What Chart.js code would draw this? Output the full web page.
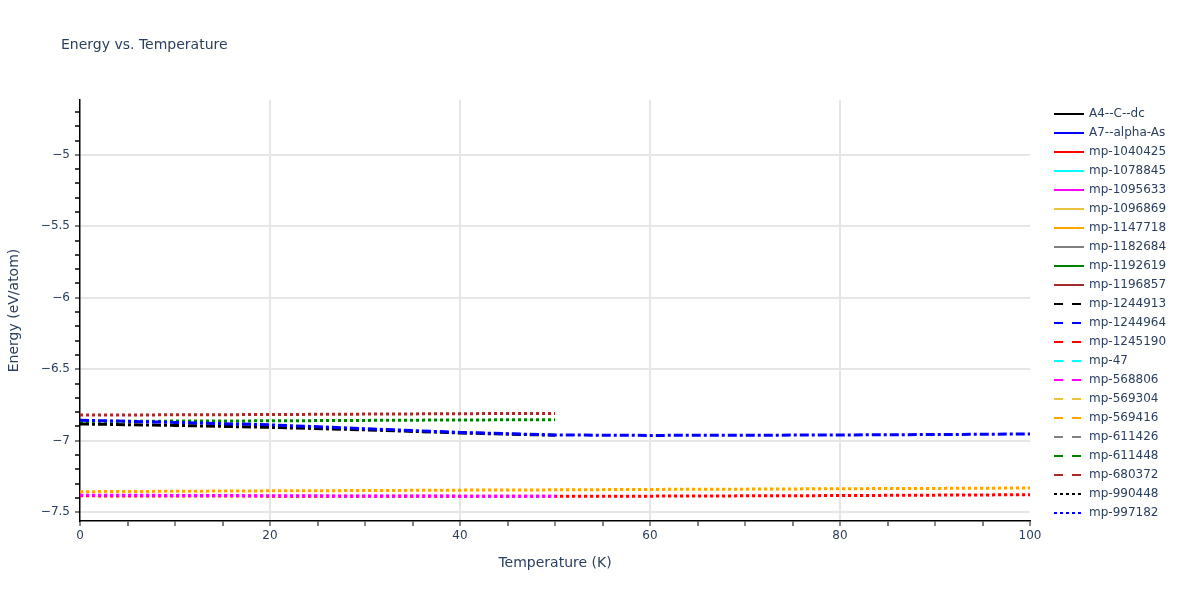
<!DOCTYPE html>
<html><head><meta charset="utf-8">
<script src="https://cdn.jsdelivr.net/npm/chart.js@4.4.1/dist/chart.umd.min.js"></script>
<style>html,body{margin:0;padding:0;background:#fff}#wrap{width:1200px;height:600px;position:relative}</style>
</head><body><div id="wrap"><canvas id="c" width="1200" height="600"></canvas></div>
<script>
const titleText = 'Energy vs. Temperature';
const xTitle = 'Temperature (K)';
const yTitle = 'Energy (eV/atom)';

const tempsFull = [0, 10, 20, 30, 40, 50, 60, 70, 80, 90, 100];
const tempsHalf = [0, 10, 20, 30, 40, 50];

const seriesNames = ['A4--C--dc','A7--alpha-As','mp-1040425','mp-1078845','mp-1095633','mp-1096869','mp-1147718','mp-1182684','mp-1192619','mp-1196857','mp-1244913','mp-1244964','mp-1245190','mp-47','mp-568806','mp-569304','mp-569416','mp-611426','mp-611448','mp-680372','mp-990448','mp-997182'];
const seriesColors = ['#000000','#0000ff','#ff0000','#00ffff','#ff00ff','#ebc23f','#ffa500','#808080','#008000','#a52a2a','#000000','#0000ff','#ff0000','#00ffff','#ff00ff','#ebc23f','#ffa500','#808080','#008000','#a52a2a','#000000','#0000ff'];
const legendStyles = ['solid','solid','solid','solid','solid','solid','solid','solid','solid','solid','dash','dash','dash','dash','dash','dash','dash','dash','dash','dash','dot','dot'];

const energyA4 = [-6.883, -6.893, -6.907, -6.924, -6.946, -6.962];
const energyA7 = [-6.857, -6.872, -6.889, -6.916, -6.942, -6.960, -6.963, -6.962, -6.960, -6.957, -6.953];
const energy1040425 = [-7.386, -7.387, -7.388, -7.389, -7.389, -7.389, -7.388, -7.386, -7.384, -7.381, -7.378];
const energy1095633 = [-7.381, -7.383, -7.385, -7.387, -7.388, -7.389];
const energy1147718 = [-7.357, -7.354, -7.351, -7.349, -7.346, -7.344, -7.341, -7.339, -7.336, -7.334, -7.331];
const energy1192619 = [-6.865, -6.863, -6.861, -6.858, -6.855, -6.853];
const energy1196857 = [-6.821, -6.819, -6.817, -6.814, -6.811, -6.809];

const xTickLabels = [0, 20, 40, 60, 80, 100];
const yTickLabels = [-7.5, -7, -6.5, -6, -5.5, -5];

const seriesData = {
  'A4--C--dc': [tempsHalf, energyA4],
  'A7--alpha-As': [tempsFull, energyA7],
  'mp-1040425': [tempsFull, energy1040425],
  'mp-1095633': [tempsHalf, energy1095633],
  'mp-1147718': [tempsFull, energy1147718],
  'mp-1192619': [tempsHalf, energy1192619],
  'mp-1196857': [tempsHalf, energy1196857]
};
const lineStyleInPlot = {
  'A4--C--dc': [9,3,3,3], 'A7--alpha-As': [9,3,3,3]
};
const drawOrder = {'A7--alpha-As':0,'mp-1095633':0,'A4--C--dc':1,'mp-1040425':1,'mp-1147718':1,'mp-1192619':2,'mp-1196857':2};

const FONT = '"DejaVu Sans", Verdana, sans-serif';
const TXT = '#2a3f5f';

const datasets = seriesNames.map((name, i) => {
  const d = seriesData[name];
  const pts = d ? d[0].map((t, k) => ({x: t, y: d[1][k]})) : [];
  return {
    label: name,
    data: pts,
    borderColor: seriesColors[i],
    backgroundColor: seriesColors[i],
    borderWidth: 3,
    borderDash: lineStyleInPlot[name] || [3,3],
    borderCapStyle: 'butt',
    pointRadius: 0,
    pointHoverRadius: 0,
    fill: false,
    tension: 0,
    order: drawOrder[name] !== undefined ? drawOrder[name] : 3
  };
});

function dashFor(s){ return s === 'dash' ? [9,9] : s === 'dot' ? [3,3] : []; }
function isMult(v, m){ const r = v / m; return Math.abs(r - Math.round(r)) < 1e-6; }
function fmt(v){ return (v < 0 ? '\u2212' : '') + String(Math.abs(v)); }

const deco = {
  id: 'deco',
  afterDraw(chart){
    const ctx = chart.ctx;
    ctx.save();
    ctx.textAlign = 'left';
    ctx.textBaseline = 'middle';
    ctx.fillStyle = TXT;
    ctx.font = '14px ' + FONT;
    ctx.fillText(titleText, 61, 45);
    ctx.font = '12px ' + FONT;
    seriesNames.forEach((n, i) => {
      const y = 114 + i * 19;
      ctx.strokeStyle = seriesColors[i];
      ctx.lineWidth = 2;
      ctx.setLineDash(dashFor(legendStyles[i]));
      ctx.beginPath();
      ctx.moveTo(1054, y);
      ctx.lineTo(1084, y);
      ctx.stroke();
      ctx.setLineDash([]);
      ctx.fillStyle = TXT;
      ctx.fillText(n, 1089, y);
    });
    ctx.restore();
  }
};

new Chart(document.getElementById('c'), {
  type: 'line',
  data: { datasets },
  plugins: [deco],
  options: {
    responsive: false,
    animation: false,
    devicePixelRatio: 1,
    layout: { padding: { top: 100, right: 170, bottom: 0, left: 0 } },
    plugins: { legend: { display: false }, title: { display: false }, tooltip: { enabled: false } },
    scales: {
      x: {
        type: 'linear', min: 0, max: 100,
        afterFit(s){ s.height = 79; },
        afterBuildTicks(s){ const t = []; for (let v = 0; v <= 100; v += 5) t.push({value: v}); s.ticks = t; },
        ticks: {
          autoSkip: false, maxRotation: 0, padding: 3, color: TXT,
          font: { family: FONT, size: 12 },
          callback: (v) => xTickLabels.some(l => Math.abs(l - v) < 1e-9) ? String(v) : ''
        },
        grid: {
          color: (c) => (c.tick && isMult(c.tick.value, 20) && c.tick.value > 0 && c.tick.value < 100) ? '#e6e6e6' : 'rgba(0,0,0,0)',
          lineWidth: 2,
          tickLength: 5,
          tickColor: (c) => (c.tick && isMult(c.tick.value, 10)) ? '#8a8a8a' : '#000000',
          tickWidth: (c) => (c.tick && isMult(c.tick.value, 10)) ? 2 : 1
        },
        border: { display: true, color: '#000000', width: 1.5 },
        title: { display: true, text: xTitle, color: TXT, font: { family: FONT, size: 14 }, padding: { top: 0, bottom: 28 } }
      },
      y: {
        type: 'linear', min: -7.562, max: -4.616,
        afterFit(s){ s.width = 80; },
        afterBuildTicks(s){ const t = []; for (let k = -75; k <= -47; k++) t.push({value: k / 10}); s.ticks = t; },
        ticks: {
          autoSkip: false, padding: 5, color: TXT,
          font: { family: FONT, size: 12 },
          callback: (v) => { const m = yTickLabels.find(l => Math.abs(l - v) < 1e-6); return m !== undefined ? fmt(m) : ''; }
        },
        grid: {
          color: (c) => (c.tick && isMult(c.tick.value, 0.5)) ? '#e6e6e6' : 'rgba(0,0,0,0)',
          lineWidth: 2,
          tickLength: 5,
          tickColor: (c) => (c.tick && isMult(c.tick.value, 0.5)) ? '#555555' : '#000000',
          tickWidth: 1.5
        },
        border: { display: true, color: '#000000', width: 1.5 },
        title: { display: true, text: yTitle, color: TXT, font: { family: FONT, size: 14 }, padding: { top: 6, bottom: 0 } }
      }
    }
  }
});
</script>
</body></html>
